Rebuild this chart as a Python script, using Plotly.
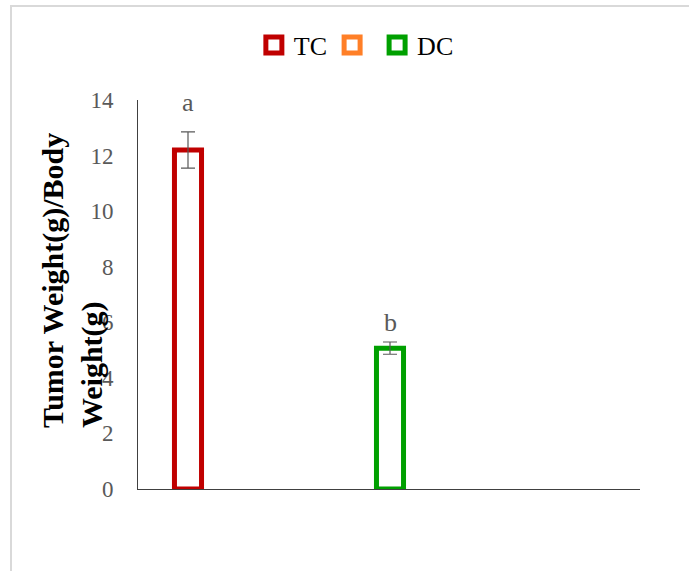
import plotly.graph_objects as go

categories = ["TC", "DC"]
series_names = ["TC", "", "DC"]
values = [12.2, None, 5.07]
errors = [0.65, None, 0.22]
letters = ["a", "b"]
letter_y = [13.9, 6.0]
colors = ["#C00000", "#FF7F27", "#00A000"]
series_x = ["TC", "TC", "DC"]
y_ticks = [0, 2, 4, 6, 8, 10, 12, 14]

fig = go.Figure()
for name, xv, v, e, c in zip(series_names, series_x, values, errors, colors):
    if v is not None:
        fig.add_trace(go.Bar(
            x=[xv], y=[v], name=name, width=0.134, showlegend=False,
            marker=dict(color="white", line=dict(color=c, width=5)),
            error_y=dict(type="data", array=[e], color="#595959", thickness=1.2, width=7),
        ))
# legend entries (square outline markers like the original legend)
for name, c in zip(series_names, colors):
    fig.add_trace(go.Scatter(
        x=[None], y=[None], name=name, mode="markers", showlegend=True,
        marker=dict(symbol="square", size=16, color="white", line=dict(color=c, width=5)),
    ))

for cat, lt, ly in zip(categories, letters, letter_y):
    fig.add_annotation(x=cat, y=ly, text=lt, showarrow=False,
                       font=dict(family="Liberation Serif", size=26, color="#595959"))

fig.add_annotation(xref="paper", yref="paper", x=-0.1315, y=0.537, xanchor="center", yanchor="middle",
                   text="Tumor Weight(g)/Body<br>Weight(g)", textangle=-90, align="left",
                   showarrow=False,
                   font=dict(family="Liberation Serif", size=30, color="black", weight="bold"))

fig.add_shape(type="rect", xref="paper", yref="paper", x0=-0.253, x1=1.3, y0=-0.4, y1=1.2416,
              line=dict(color="#D9D9D9", width=2), layer="below")

fig.update_layout(
    width=689, height=571,
    margin=dict(l=138, r=49, t=100, b=82),
    paper_bgcolor="white", plot_bgcolor="white",
    barmode="overlay",
    showlegend=True,
    legend=dict(orientation="h", x=0.435, y=1.141, xanchor="center", yanchor="middle",
                font=dict(family="Liberation Serif", size=26, color="black"),
                traceorder="normal", itemsizing="trace"),
    xaxis=dict(type="category", categoryorder="array", categoryarray=categories,
               range=[-0.2475, 2.2376], showticklabels=False, ticks="",
               showline=True, linecolor="#404040", linewidth=1, showgrid=False, zeroline=False),
    yaxis=dict(range=[0, 14], tickvals=y_ticks, showline=True, linecolor="#404040", linewidth=1,
               showgrid=False, zeroline=False, ticks="", ticklabelstandoff=19,
               tickfont=dict(family="Liberation Serif", size=23, color="#595959")),
)

fig.write_html("out.html", config={"displayModeBar": False},
               post_script="document.body.style.margin='0';")
